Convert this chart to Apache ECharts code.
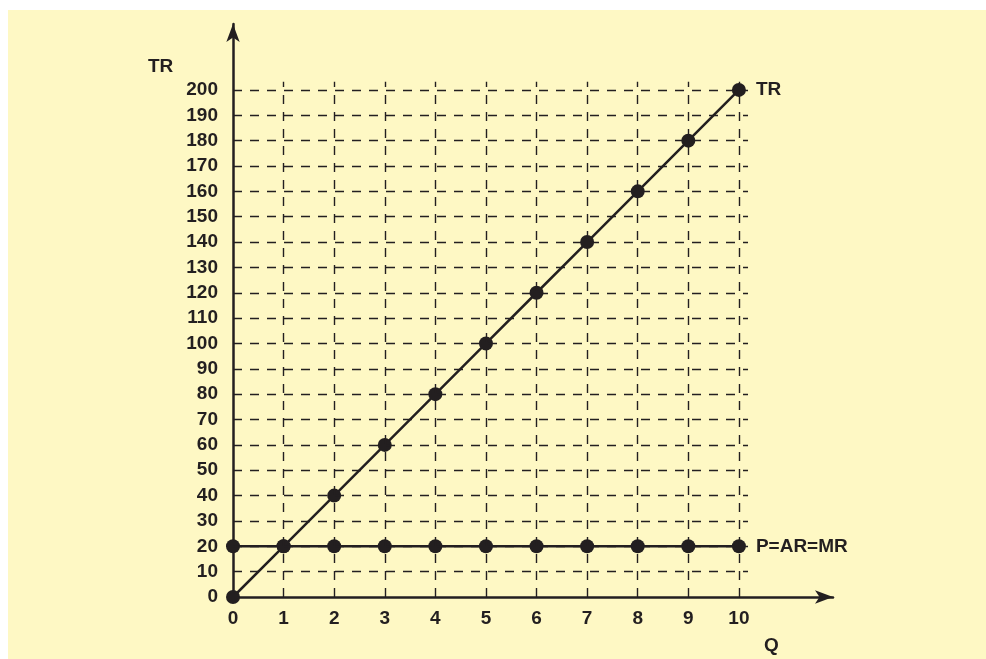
<!DOCTYPE html>
<html>
<head>
<meta charset="utf-8">
<script src="https://cdn.jsdelivr.net/npm/echarts@6/dist/echarts.min.js"></script>
<style>
  html, body { margin: 0; padding: 0; background: #ffffff; }
  #chart { width: 986px; height: 659px; }
</style>
</head>
<body>
<div id="chart"></div>
<script>
// ---- data ----
const quantities = [0, 1, 2, 3, 4, 5, 6, 7, 8, 9, 10];
const totalRevenue = [0, 20, 40, 60, 80, 100, 120, 140, 160, 180, 200];
const priceARMR = [20, 20, 20, 20, 20, 20, 20, 20, 20, 20, 20];
const yGridValues = [10, 20, 30, 40, 50, 60, 70, 80, 90, 100, 110, 120, 130, 140, 150, 160, 170, 180, 190, 200];
const xGridValues = [1, 2, 3, 4, 5, 6, 7, 8, 9, 10];
const trLabel = 'TR';
const priceLabel = 'P=AR=MR';
const yAxisName = 'TR';
const xAxisName = 'Q';

const ink = '#231f20';
const font = '"Liberation Sans", Arial, Helvetica, sans-serif';
const gridXEnd = 10.18;
const gridYEnd = 203.2;

const dashStyle = { color: ink, width: 1.4, type: [9, 8] };
const gridLines = [];
yGridValues.forEach(v => gridLines.push([{ coord: [0, v] }, { coord: [gridXEnd, v] }]));
xGridValues.forEach(v => gridLines.push([{ coord: [v, 0] }, { coord: [v, gridYEnd] }]));

const labelFont = { color: ink, fontSize: 19, fontWeight: 'bold', fontFamily: font };

const chart = echarts.init(document.getElementById('chart'), null, { renderer: 'canvas' });
chart.setOption({
  backgroundColor: '#ffffff',
  animation: false,
  graphic: [{
    type: 'rect', left: 8, top: 10, z: -10,
    shape: { width: 978, height: 649 },
    style: { fill: '#fef8c4' }
  }, {
    type: 'text', left: 148, top: 57,
    style: { text: yAxisName, font: 'bold 19px ' + font, fill: ink }
  }, {
    type: 'text', left: 764, top: 636,
    style: { text: xAxisName, font: 'bold 19px ' + font, fill: ink }
  }],
  grid: { left: 233, right: 153, top: 24, bottom: 62 },
  xAxis: {
    type: 'value', min: 0, max: 11.86, interval: 1,
    axisLine: { show: true, symbol: ['none', 'arrow'], symbolSize: [10, 18], lineStyle: { color: ink, width: 2.5 } },
    axisTick: { show: false },
    splitLine: { show: false },
    axisLabel: Object.assign({
      margin: 12, showMaxLabel: false,
      formatter: v => (v <= 10 ? String(v) : '')
    }, labelFont)
  },
  yAxis: {
    type: 'value', min: 0, max: 226, interval: 10,
    axisLine: { show: true, symbol: ['none', 'arrow'], symbolSize: [10, 18], lineStyle: { color: ink, width: 2.5 } },
    axisTick: { show: false },
    splitLine: { show: false },
    axisLabel: Object.assign({
      margin: 15, showMaxLabel: false,
      formatter: v => (v <= 200 ? String(v) : '')
    }, labelFont)
  },
  series: [{
    type: 'line',
    name: 'grid',
    data: [],
    silent: true,
    z: 1,
    markLine: {
      silent: true, symbol: ['none', 'none'], label: { show: false },
      lineStyle: dashStyle,
      emphasis: { disabled: true },
      data: gridLines
    }
  }, {
    type: 'line',
    name: trLabel,
    data: quantities.map((q, i) => [q, totalRevenue[i]]),
    z: 3,
    symbol: 'circle', symbolSize: 14,
    itemStyle: { color: ink },
    lineStyle: { color: ink, width: 2.5 },
    endLabel: Object.assign({ show: true, formatter: trLabel, distance: 17 }, labelFont)
  }, {
    type: 'line',
    name: priceLabel,
    data: quantities.map((q, i) => [q, priceARMR[i]]),
    z: 3,
    symbol: 'circle', symbolSize: 14,
    itemStyle: { color: ink },
    lineStyle: { color: ink, width: 2.5 },
    endLabel: Object.assign({ show: true, formatter: priceLabel, distance: 17 }, labelFont)
  }]
});
</script>
</body>
</html>
